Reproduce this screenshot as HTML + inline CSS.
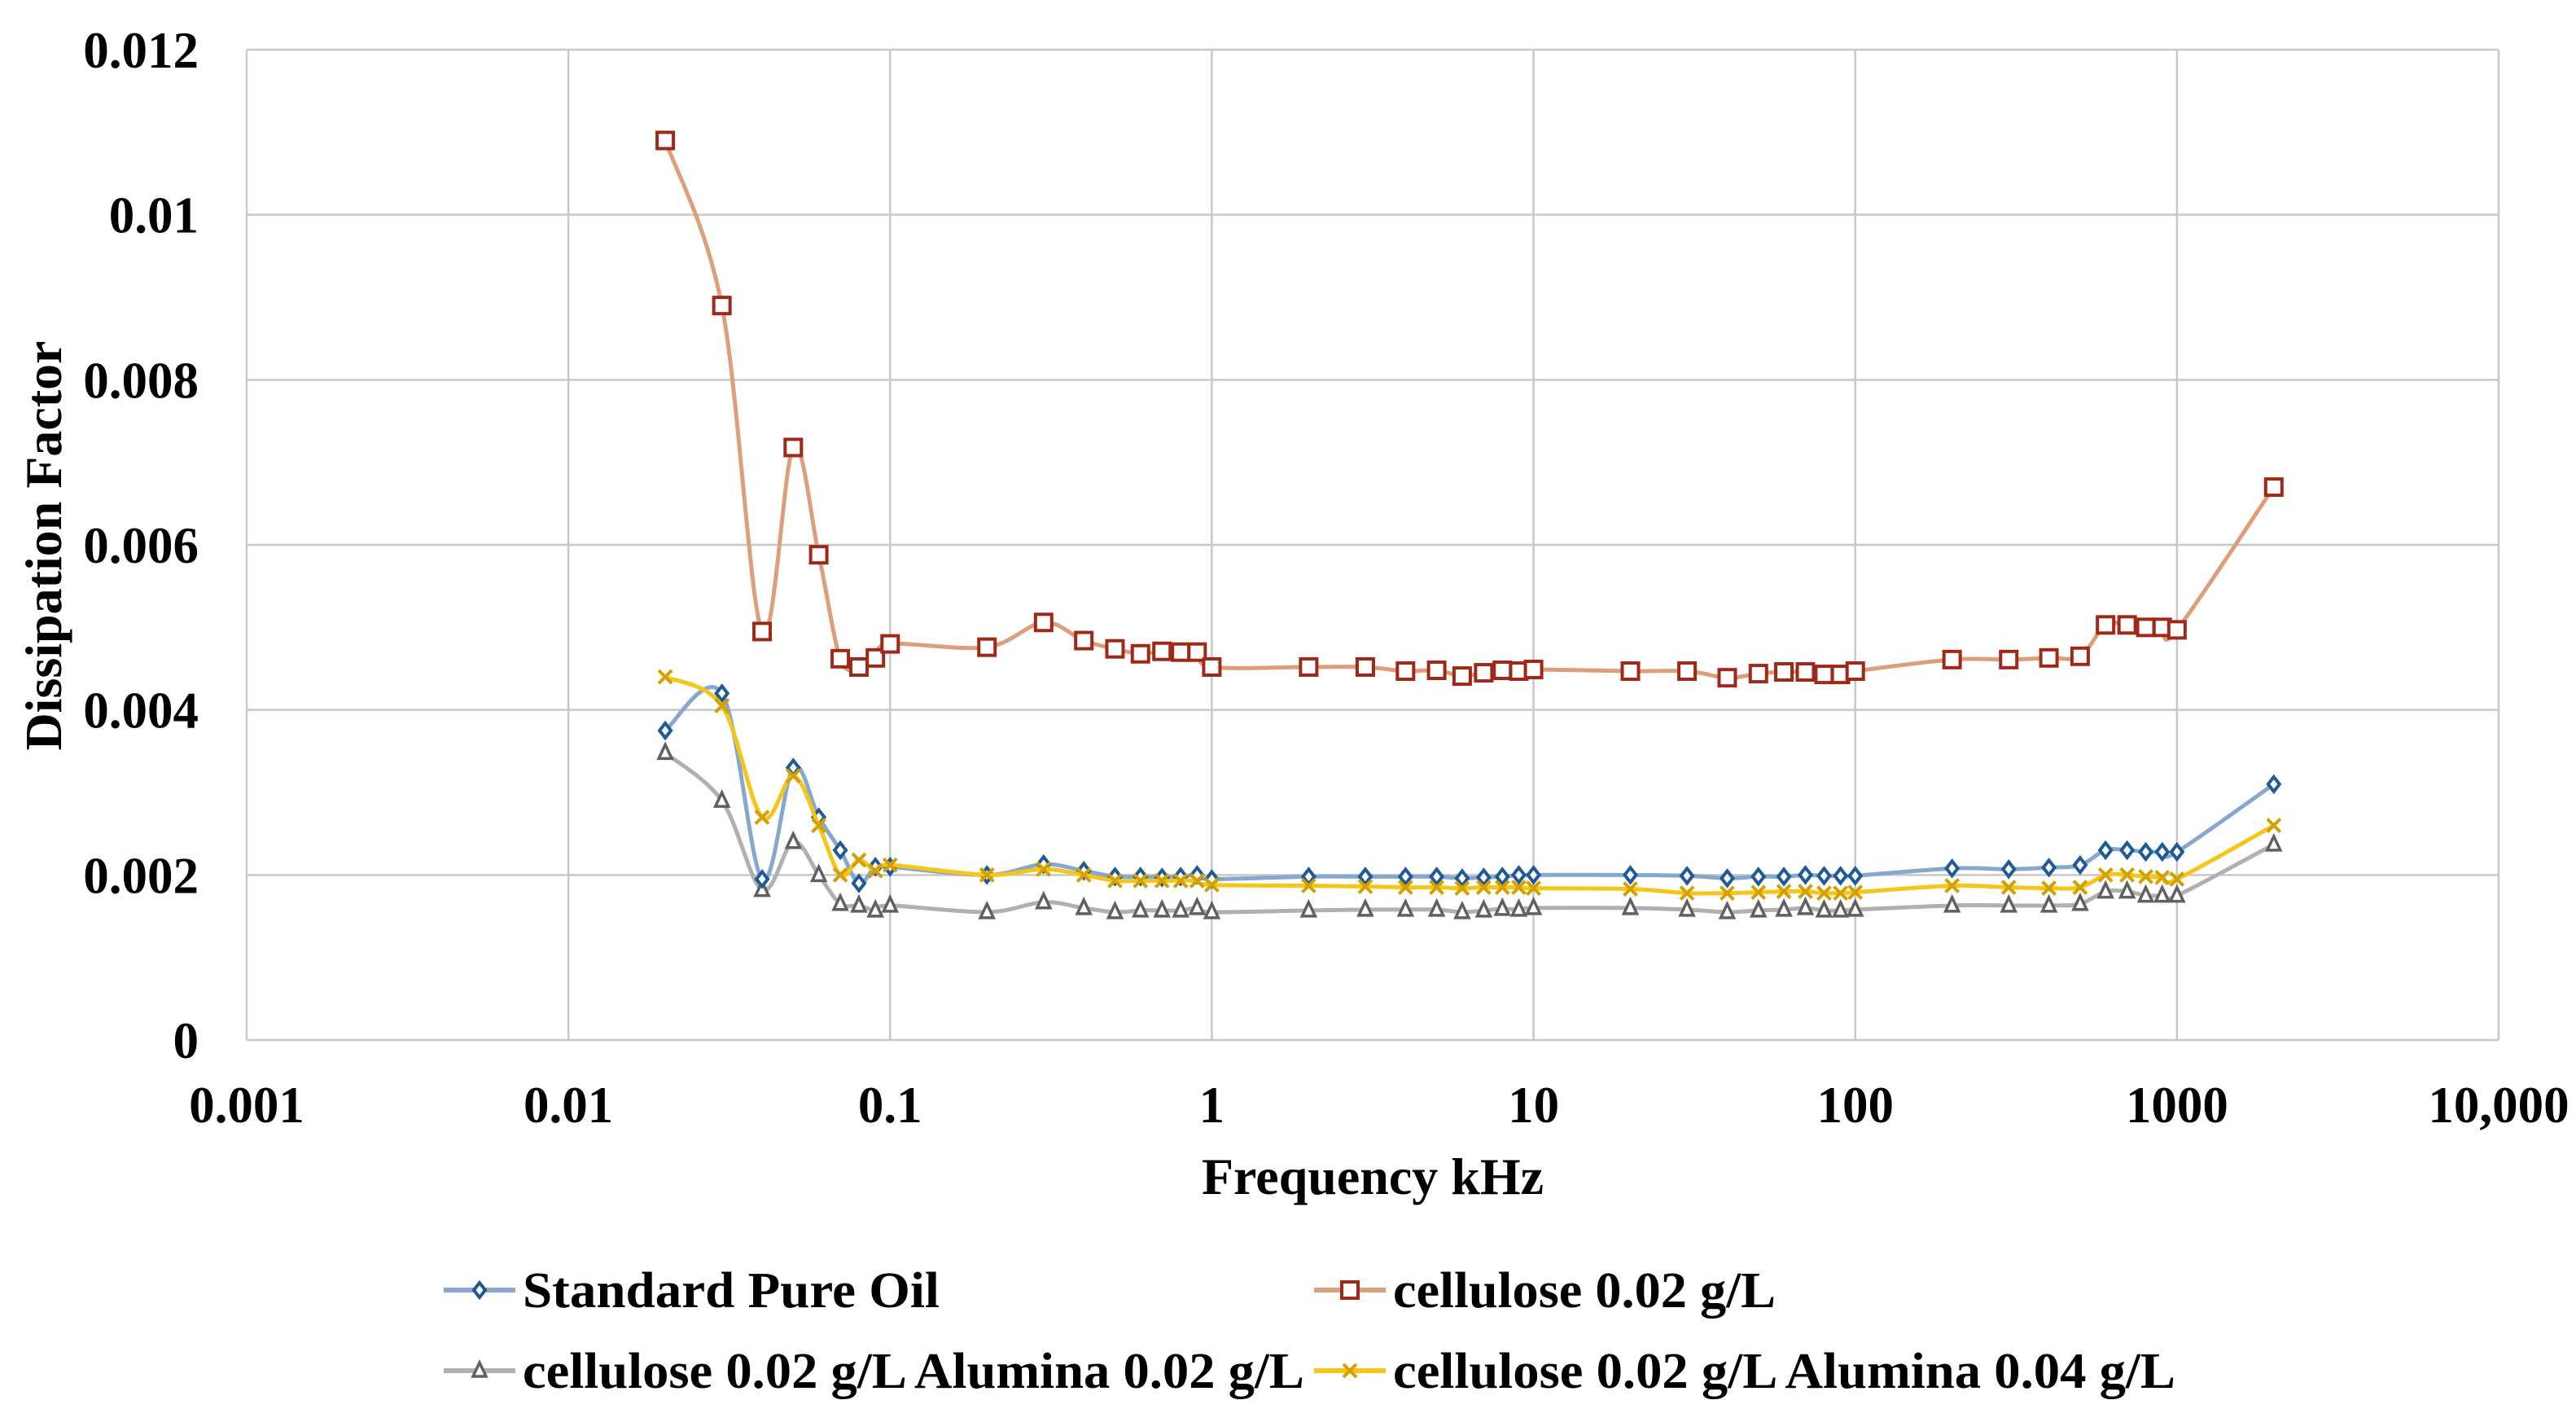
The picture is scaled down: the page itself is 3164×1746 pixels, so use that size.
<!DOCTYPE html>
<html><head><meta charset="utf-8"><style>
html,body{margin:0;padding:0;background:#fff;}
svg{display:block;font-family:"Liberation Serif",serif;font-weight:bold;}
</style></head><body>
<svg id="chart" width="3164" height="1746" viewBox="0 0 3164 1746" xmlns="http://www.w3.org/2000/svg">
<g id="grid"></g>
<g id="axes"></g>
<g id="series"></g>
<text transform="translate(75,670) rotate(-90)" text-anchor="middle" font-size="64">Dissipation Factor</text>
<text x="1686" y="1466" text-anchor="middle" font-size="64">Frequency kHz</text>
<g id="legend"></g>
</svg>
<script>
const freqs=[0.02,0.03,0.04,0.05,0.06,0.07,0.08,0.09,0.1,0.2,0.3,0.4,0.5,0.6,0.7,0.8,0.9,1,2,3,4,5,6,7,8,9,10,20,30,40,50,60,70,80,90,100,200,300,400,500,600,700,800,900,1000,2000];
const pureOil=[0.00375,0.0042,0.00195,0.0033,0.0027,0.0023,0.0019,0.0021,0.0021,0.002,0.00213,0.00205,0.00198,0.00198,0.00197,0.00198,0.002,0.00195,0.00198,0.00198,0.00198,0.00198,0.00196,0.00197,0.00198,0.002,0.002,0.002,0.00199,0.00196,0.00198,0.00198,0.002,0.00199,0.00199,0.00199,0.00208,0.00207,0.00209,0.00212,0.0023,0.0023,0.00228,0.00228,0.00228,0.0031];
const cellulose=[0.0109,0.0089,0.00495,0.00718,0.00588,0.00462,0.00452,0.00463,0.0048,0.00476,0.00506,0.00484,0.00474,0.00468,0.00471,0.0047,0.0047,0.00452,0.00452,0.00452,0.00447,0.00448,0.00441,0.00445,0.00448,0.00447,0.00449,0.00447,0.00447,0.00439,0.00444,0.00446,0.00446,0.00443,0.00443,0.00447,0.00461,0.00461,0.00463,0.00465,0.00503,0.00503,0.005,0.005,0.00497,0.0067];
const alumina02=[0.00348,0.0029,0.00182,0.0024,0.002,0.00165,0.00163,0.00157,0.00163,0.00155,0.00167,0.0016,0.00155,0.00157,0.00157,0.00157,0.0016,0.00155,0.00157,0.00158,0.00158,0.00158,0.00155,0.00157,0.00159,0.00158,0.0016,0.0016,0.00158,0.00155,0.00157,0.00158,0.0016,0.00157,0.00157,0.00158,0.00163,0.00163,0.00163,0.00165,0.0018,0.0018,0.00175,0.00175,0.00175,0.00237];
const alumina04=[0.0044,0.00405,0.0027,0.0032,0.0026,0.002,0.00218,0.00205,0.00212,0.002,0.00207,0.002,0.00193,0.00193,0.00193,0.00193,0.00193,0.00188,0.00187,0.00186,0.00185,0.00185,0.00184,0.00185,0.00185,0.00185,0.00184,0.00183,0.00178,0.00178,0.00179,0.0018,0.0018,0.00178,0.00178,0.00179,0.00187,0.00185,0.00184,0.00185,0.002,0.002,0.00198,0.00197,0.00195,0.0026];
const yTicks=[0,0.002,0.004,0.006,0.008,0.01,0.012];
const yTickLabels=["0","0.002","0.004","0.006","0.008","0.01","0.012"];
const xTicks=[0.001,0.01,0.1,1,10,100,1000,10000];
const xTickLabels=["0.001","0.01","0.1","1","10","100","1000","10,000"];

const L=303,R=3069,T=61,B=1277;
const NS="http://www.w3.org/2000/svg";
function xs(v){return L+(Math.log10(v)+3)/7*(R-L);}
function ys(v){return B-v/0.012*(B-T);}
function mk(tag,attrs,parent){const e=document.createElementNS(NS,tag);for(const k in attrs)e.setAttribute(k,attrs[k]);parent.appendChild(e);return e;}
const grid=document.getElementById('grid'),axes=document.getElementById('axes'),ser=document.getElementById('series'),leg=document.getElementById('legend');
yTicks.forEach((t,i)=>{
  const l=mk('line',{x1:L,x2:R,y1:ys(t),y2:ys(t),stroke:'#c8c8c8','stroke-width':2.5},grid);
  
  
  const tx=mk('text',{x:244,y:ys(t)+22,'text-anchor':'end','font-size':63},axes);
  tx.textContent=yTickLabels[i];
  
  
});
xTicks.forEach((t,i)=>{
  const l=mk('line',{x1:xs(t),x2:xs(t),y1:T,y2:B,stroke:'#c8c8c8','stroke-width':2.5},grid);
  
  
  const tx=mk('text',{x:xs(t),y:1378,'text-anchor':'middle','font-size':63},axes);
  tx.textContent=xTickLabels[i];
  
  
});
function smooth(pts){
  let d='M'+pts[0][0]+','+pts[0][1];
  for(let i=0;i<pts.length-1;i++){
    const p0=pts[Math.max(0,i-1)],p1=pts[i],p2=pts[i+1],p3=pts[Math.min(pts.length-1,i+2)];
    const k=1/6;
    d+=' C'+(p1[0]+(p2[0]-p0[0])*k)+','+(p1[1]+(p2[1]-p0[1])*k)+' '+(p2[0]-(p3[0]-p1[0])*k)+','+(p2[1]-(p3[1]-p1[1])*k)+' '+p2[0]+','+p2[1];
  }
  return d;
}
function marker(type,x,y,g,col){
  let e;
  if(type==='diamond'){e=mk('path',{d:`M${x},${y-9} L${x+7},${y} L${x},${y+9} L${x-7},${y} Z`,fill:'#fff',stroke:col,'stroke-width':4},g);}
  else if(type==='square'){e=mk('rect',{x:x-10,y:y-10,width:20,height:20,fill:'#fff',stroke:col,'stroke-width':4},g);}
  else if(type==='triangle'){e=mk('path',{d:`M${x},${y-10} L${x+8},${y+7} L${x-8},${y+7} Z`,fill:'#fff',stroke:col,'stroke-width':3.5},g);}
  else {e=mk('path',{d:`M${x-8},${y-8} L${x+8},${y+8} M${x+8},${y-8} L${x-8},${y+8}`,stroke:col,'stroke-width':4},g);}
  return e;
}
const seriesDefs=[
 {name:'standard-pure-oil',vals:pureOil,line:'#86a8cf',mcol:'#1f5a96',m:'diamond',label:'Standard Pure Oil',lx:545,ly:1584,tl:512},
 {name:'cellulose-002',vals:cellulose,line:'#dc9f7c',mcol:'#a02818',m:'square',label:'cellulose 0.02 g/L',lx:1614,ly:1584,tl:470},
 {name:'cellulose-alumina-002',vals:alumina02,line:'#b0b0b0',mcol:'#606060',m:'triangle',label:'cellulose 0.02 g/L Alumina 0.02 g/L',lx:545,ly:1683,tl:960},
 {name:'cellulose-alumina-004',vals:alumina04,line:'#f5c518',mcol:'#d4a000',m:'x',label:'cellulose 0.02 g/L Alumina 0.04 g/L',lx:1614,ly:1683,tl:961}
];
[2,0,3,1].forEach(si=>{
  const s=seriesDefs[si];
  const g=mk('g',{},ser);
  
  
  const pts=freqs.map((f,i)=>[xs(f),ys(s.vals[i])]);
  const p=mk('path',{d:smooth(pts),fill:'none',stroke:s.line,'stroke-width':5},g);
  
  
  pts.forEach(pt=>{
    const m=marker(s.m,pt[0],pt[1],g,s.mcol);
    
    
  });
});
seriesDefs.forEach(s=>{
  const g=mk('g',{},leg);
  
  
  mk('line',{x1:s.lx,x2:s.lx+88,y1:s.ly,y2:s.ly,stroke:s.line,'stroke-width':6},g);
  marker(s.m,s.lx+44,s.ly,g,s.mcol);
  const t=mk('text',{x:s.lx+97,y:s.ly+21,'font-size':62,textLength:s.tl,lengthAdjust:'spacingAndGlyphs'},g);
  t.textContent=s.label;
});
</script>
</body></html>
